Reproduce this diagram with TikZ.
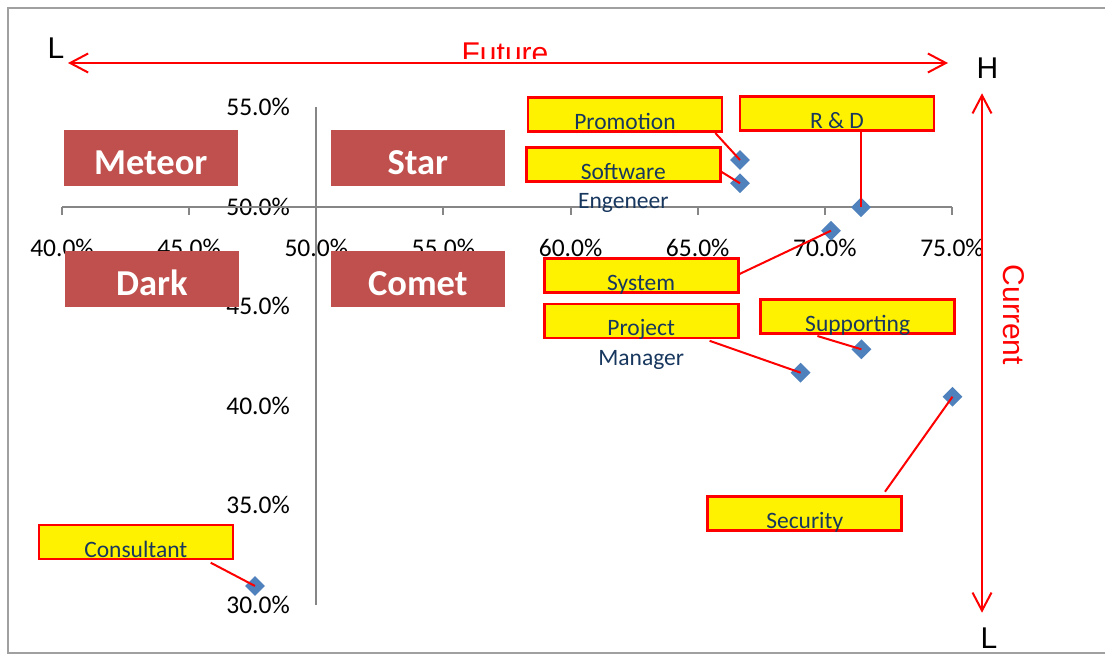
\documentclass[tikz,border=0pt]{standalone}
\usepackage{fontspec}
\setmainfont{Carlito}
\newfontfamily\arialf{Liberation Sans}
\usetikzlibrary{arrows.meta,shapes.geometric}
\definecolor{navy}{RGB}{23,55,94}
\definecolor{quadred}{RGB}{192,80,77}
\definecolor{ptblue}{RGB}{79,129,189}
\definecolor{axgray}{RGB}{134,134,134}
\definecolor{framegray}{RGB}{160,160,160}
\begin{document}
\begin{tikzpicture}[x=1pt,y=-1pt,
  quad/.style={fill=quadred, text=white, font=\fontsize{36.5}{40}\selectfont\bfseries,
    minimum width=173.5pt, minimum height=55.7pt, inner sep=0pt, text height=33pt, text depth=0pt},
  callout/.style={draw=red, fill=yellow, line width=2.6pt, minimum width=194pt, minimum height=34pt,
    inner sep=0pt, text=navy, font=\fontsize{23.5}{28}\selectfont, text height=30pt, text depth=0pt},
  calltext/.style={text=navy, font=\fontsize{23.5}{28}\selectfont, inner sep=0pt, anchor=base},
  datapt/.style={diamond, fill=ptblue, minimum width=20pt, minimum height=20pt, inner sep=0pt},
  conn/.style={red, line width=2pt},
  ticklbl/.style={font=\fontsize{25.5}{30}\selectfont, inner sep=0pt},
  axisline/.style={axgray, line width=2pt},
  bigarrow/.style={red, line width=2pt, {Straight Barb[length=18pt,width=19pt]}-{Straight Barb[length=18pt,width=19pt]}},
  hl/.style={font=\arialf\fontsize{30}{34}\selectfont, inner sep=0pt}
]
\useasboundingbox (0,0) rectangle (1105,655);
\fill[white] (0,0) rectangle (1105,655);
% frame
\draw[framegray, line width=2pt] (1105,8) -- (8,8) -- (8,653) -- (1105,653);

% x tick labels and ticks
\foreach \i in {0,...,7}{
  \pgfmathsetmacro\xx{62+127.14*\i}
  \pgfmathtruncatemacro\pp{40+5*\i}
  \draw[axisline] (\xx,207) -- (\xx,215);
  \node[ticklbl, anchor=base] (xl\i) at (\xx,256.5) {\pp.0\%};
}
% y tick labels
\foreach \i in {0,...,5}{
  \pgfmathsetmacro\yy{107.5+99.5*\i}
  \pgfmathtruncatemacro\pp{55-5*\i}
  \node[ticklbl, anchor=base east] (yl\i) at (290,\yy+8) {\pp.0\%};
}
% axes
\draw[axisline] (62,207) -- (952,207);
\draw[axisline] (316,107.5) -- (316,605);

% quadrant labels
\node[quad] (meteor) at (150.8,157.9) {Meteor};
\node[quad] (star) at (417.8,157.9) {Star};
\node[quad] (dark) at (151.8,278.8) {Dark};
\node[quad] (comet) at (417.8,278.8) {Comet};

% data points
\node[datapt] (dprom) at (740,160) {};
\node[datapt] (dsw) at (740,183.3) {};
\node[datapt] (drd) at (861,207.3) {};
\node[datapt] (dsys) at (831,230.7) {};
\node[datapt] (dsup) at (861.4,349.3) {};
\node[datapt] (dproj) at (800.6,372.7) {};
\node[datapt] (dsec) at (952.5,396.7) {};
\node[datapt] (dcon) at (255,586) {};

% callouts
\node[callout] (prom) at (625,114.7) {Promotion};
\node[callout] (rd) at (837,113.3) {R \& D};
\node[callout] (sw) at (623.3,164.3) {Software};
\node[calltext, yshift=-44pt] (sw2) at (sw.center) {Engeneer};
\node[callout] (sys) at (641.2,275.7) {System};
\node[callout] (proj) at (641.2,320.8) {Project};
\node[calltext, yshift=-44.3pt] (proj2) at (proj.center) {Manager};
\node[callout] (sup) at (857.7,316.7) {Supporting};
\node[callout] (sec) at (804.7,513.3) {Security};
\node[callout] (con) at (135.8,542) {Consultant};

% connectors
\draw[conn] ([xshift=-8pt]prom.south east) -- (dprom.center);
\draw[conn] ([xshift=-2pt,yshift=-6.4pt]sw.east) -- (dsw.center);
\draw[conn] ([xshift=24pt]rd.south) -- (drd.center);
\draw[conn] ([yshift=1.7pt]sys.east) -- (dsys.center);
\draw[conn] ([xshift=68.4pt,yshift=-1.7pt]proj.south) -- (dproj.center);
\draw[conn] ([xshift=-40.3pt,yshift=-1pt]sup.south) -- (dsup.center);
\draw[conn] ([xshift=80.3pt,yshift=3.3pt]sec.north) -- (dsec.center);
\draw[conn] ([xshift=74.9pt,yshift=-2.4pt]con.south) -- (dcon.center);

% big arrows
\coordinate (fl) at (68,63);
\coordinate (fr) at (948,63);
\coordinate (ct) at (982,93.3);
\coordinate (cb) at (982,612.7);
\draw[bigarrow] (fl) -- (fr);
\draw[bigarrow] (ct) -- (cb);

% letters and titles
\node[hl] (ltop) at (56,48) {L};
\node[hl] (htop) at (987.5,68) {H};
\node[hl] (lbot) at (989,638) {L};
\begin{scope}
  \clip (430,20) rectangle (580,58.5);
  \node[hl, text=red, anchor=base] (fut) at (505,63.2) {Future};
\end{scope}
\node[hl, text=red, rotate=-90] (cur) at (1014,315) {Current};
\end{tikzpicture}
\end{document}
